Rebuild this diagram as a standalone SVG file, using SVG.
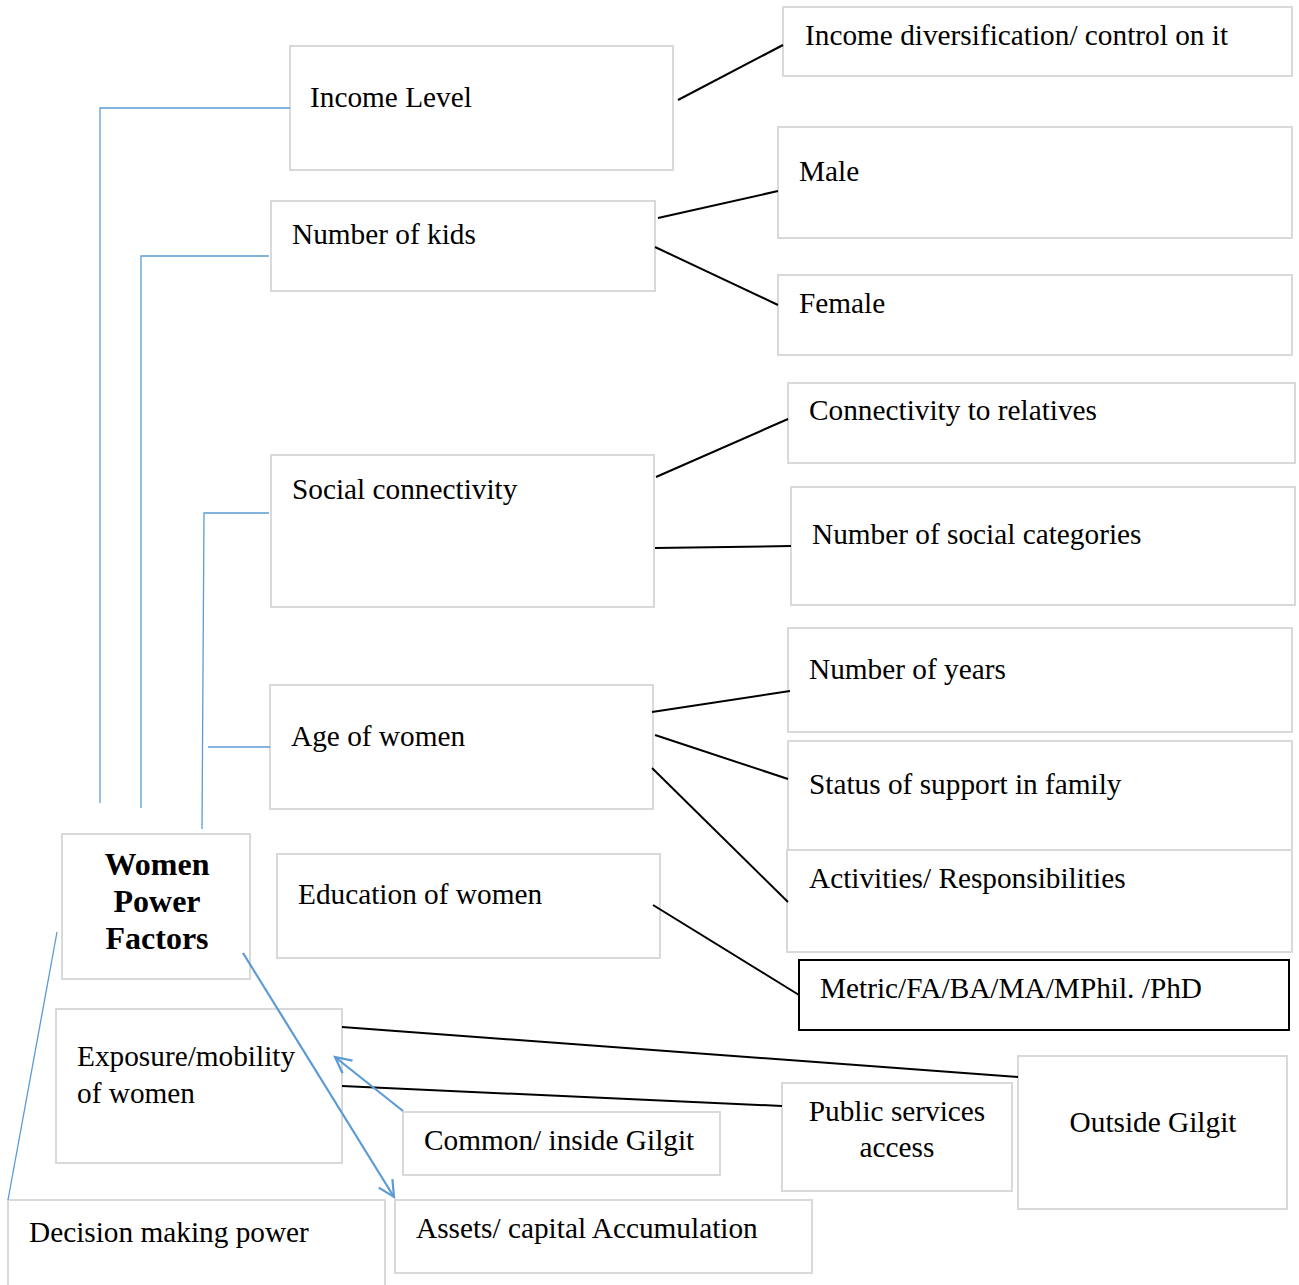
<svg xmlns="http://www.w3.org/2000/svg" width="1299" height="1285" viewBox="0 0 1299 1285">
<style>
.box{fill:#fff;stroke:#d9d9d9;stroke-width:2}
.bk{fill:#fff;stroke:#000;stroke-width:2}
text{font-family:"Liberation Serif","Times New Roman",serif;font-size:29.3px;fill:#000}
.b{font-weight:bold;font-size:32px}
.c{stroke:#000;stroke-width:2;fill:none}
.bl{stroke:#5b9bd5;stroke-width:1.3;fill:none}
.ba{stroke:#5b9bd5;stroke-width:2.2;fill:none}
</style>
<defs>
<marker id="ah" markerWidth="20" markerHeight="20" refX="17" refY="10" orient="auto" markerUnits="userSpaceOnUse">
<path d="M1,2 L17,10 L1,18" fill="none" stroke="#5b9bd5" stroke-width="2.2"/>
</marker>
</defs>
<rect width="1299" height="1285" fill="#fff"/>
<g id="income-level"><rect class="box" x="290" y="46" width="383" height="124"/><text x="310" y="107">Income Level</text></g>
<g id="income-diversification"><rect class="box" x="783" y="7" width="509" height="69"/><text x="805" y="45">Income diversification/ control on it</text></g>
<g id="number-of-kids"><rect class="box" x="271" y="201" width="384" height="90"/><text x="292" y="244">Number of kids</text></g>
<g id="male"><rect class="box" x="778" y="127" width="514" height="111"/><text x="799" y="181">Male</text></g>
<g id="female"><rect class="box" x="778" y="275" width="514" height="80"/><text x="799" y="313">Female</text></g>
<g id="connectivity-relatives"><rect class="box" x="788" y="383" width="507" height="80"/><text x="809" y="420">Connectivity to relatives</text></g>
<g id="social-connectivity"><rect class="box" x="271" y="455" width="383" height="152"/><text x="292" y="499">Social connectivity</text></g>
<g id="social-categories"><rect class="box" x="791" y="487" width="504" height="118"/><text x="812" y="544">Number of social categories</text></g>
<g id="number-of-years"><rect class="box" x="788" y="628" width="504" height="104"/><text x="809" y="679">Number of years</text></g>
<g id="age-of-women"><rect class="box" x="270" y="685" width="383" height="124"/><text x="291" y="746">Age of women</text></g>
<g id="status-support"><rect class="box" x="788" y="741" width="504" height="110"/><text x="809" y="794">Status of support in family</text></g>
<g id="activities"><rect class="box" x="787" y="850" width="505" height="102"/><text x="809" y="888">Activities/ Responsibilities</text></g>
<g id="women-power-factors"><rect class="box" x="62" y="834" width="188" height="145"/>
<text class="b" x="157" y="875" text-anchor="middle">Women</text>
<text class="b" x="157" y="912" text-anchor="middle">Power</text>
<text class="b" x="157" y="949" text-anchor="middle">Factors</text></g>
<g id="education"><rect class="box" x="277" y="854" width="383" height="104"/><text x="298" y="904">Education of women</text></g>
<g id="metric"><rect class="bk" x="799" y="960" width="490" height="70"/><text x="820" y="998">Metric/FA/BA/MA/MPhil. /PhD</text></g>
<g id="exposure"><rect class="box" x="56" y="1009" width="286" height="154"/><text x="77" y="1066">Exposure/mobility</text><text x="77" y="1103">of women</text></g>
<g id="common-inside"><rect class="box" x="403" y="1112" width="317" height="63"/><text x="424" y="1150">Common/ inside Gilgit</text></g>
<g id="public-services"><rect class="box" x="782" y="1083" width="230" height="108"/><text x="897" y="1121" text-anchor="middle">Public services</text><text x="897" y="1157" text-anchor="middle">access</text></g>
<g id="outside-gilgit"><rect class="box" x="1018" y="1056" width="269" height="153"/><text x="1153" y="1132" text-anchor="middle">Outside Gilgit</text></g>
<g id="decision-making"><rect class="box" x="8" y="1200" width="377" height="95"/><text x="29" y="1242">Decision making power</text></g>
<g id="assets"><rect class="box" x="395" y="1200" width="417" height="73"/><text x="416" y="1238">Assets/ capital Accumulation</text></g>
<g id="connectors">
<line class="c" x1="678" y1="100" x2="783" y2="45"/>
<line class="c" x1="658" y1="218" x2="778" y2="191"/>
<line class="c" x1="655" y1="247" x2="778" y2="305"/>
<line class="c" x1="656" y1="477" x2="788" y2="419"/>
<line class="c" x1="655" y1="548" x2="791" y2="546"/>
<line class="c" x1="652" y1="712" x2="790" y2="691"/>
<line class="c" x1="655" y1="735" x2="788" y2="779"/>
<line class="c" x1="652" y1="768" x2="788" y2="902"/>
<line class="c" x1="653" y1="905" x2="799" y2="995"/>
<line class="c" x1="342" y1="1027" x2="1018" y2="1077"/>
<line class="c" x1="342" y1="1086" x2="782" y2="1106"/>
<polyline class="bl" points="100,803 100,108 290,108"/>
<polyline class="bl" points="141,808 141,256 269,256"/>
<polyline class="bl" points="202,829 204,513 269,513"/>
<line class="bl" x1="208" y1="747" x2="270" y2="747"/>
<line class="bl" x1="57" y1="932" x2="8" y2="1200"/>
<line class="ba" x1="243" y1="953" x2="394" y2="1197" marker-end="url(#ah)"/>
<line class="ba" x1="403" y1="1111" x2="335" y2="1057" marker-end="url(#ah)"/>
</g>
</svg>
